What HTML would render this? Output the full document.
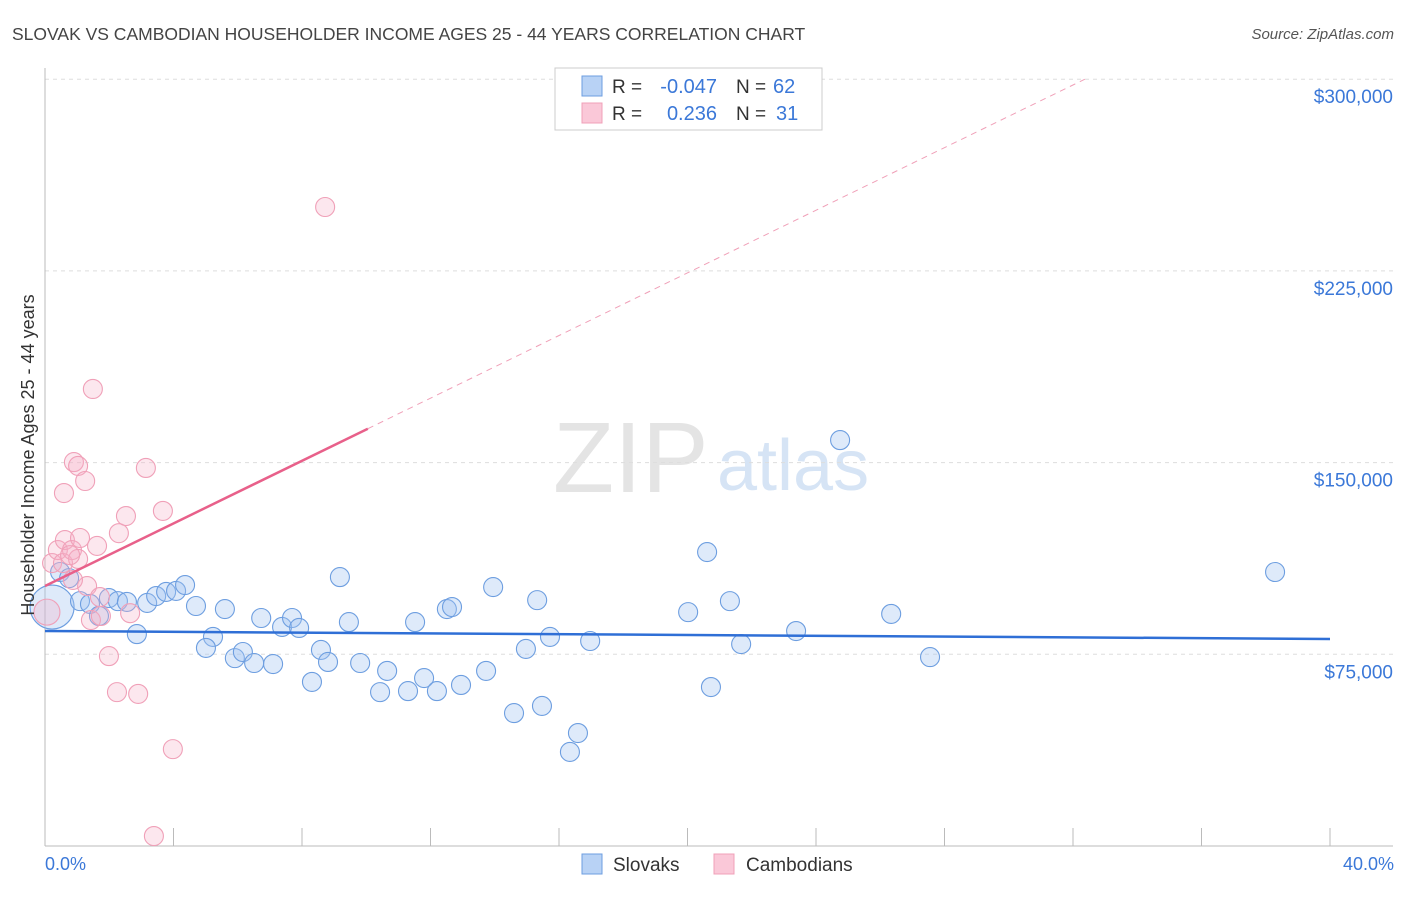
<!DOCTYPE html>
<html><head><meta charset="utf-8"><style>
body{margin:0;background:#fff;font-family:"Liberation Sans",sans-serif;}
svg text{font-family:"Liberation Sans",sans-serif;}
</style></head><body>
<svg id="c" width="1406" height="892">
<text x="12" y="40" font-size="17.5" fill="#444">SLOVAK VS CAMBODIAN HOUSEHOLDER INCOME AGES 25 - 44 YEARS CORRELATION CHART</text>
<text x="1394" y="39" font-size="15" fill="#555" text-anchor="end" font-style="italic">Source: ZipAtlas.com</text>
<g>
<text x="553" y="492" font-size="100" fill="#e4e4e4" font-family="Liberation Serif">ZIP</text>
<text x="717" y="490" font-size="72" fill="#d6e4f5">atlas</text>
</g>
<g id="grid"></g><g id="axes"></g><g id="pts"></g><g id="trend"></g>
<text transform="translate(34,455) rotate(-90)" font-size="18" fill="#333" text-anchor="middle">Householder Income Ages 25 - 44 years</text>
<text x="45" y="870" font-size="18" fill="#3b78d8">0.0%</text>
<text x="1394" y="870" font-size="18" fill="#3b78d8" text-anchor="end">40.0%</text>
<g>
<rect x="555" y="68" width="267" height="62" fill="#fff" stroke="#ccc"/>
<rect x="582" y="76" width="20" height="20" fill="#b8d2f5" stroke="#6d9ee0"/>
<rect x="582" y="103" width="20" height="20" fill="#fac8d8" stroke="#f0a0b8"/>
<text x="612" y="93" font-size="19" fill="#333">R =</text>
<text x="717" y="93" font-size="20" fill="#3b78d8" text-anchor="end">-0.047</text>
<text x="736" y="93" font-size="19" fill="#333">N =</text>
<text x="773" y="93" font-size="20" fill="#3b78d8">62</text>
<text x="612" y="120" font-size="19" fill="#333">R =</text>
<text x="717" y="120" font-size="20" fill="#3b78d8" text-anchor="end">0.236</text>
<text x="736" y="120" font-size="19" fill="#333">N =</text>
<text x="776" y="120" font-size="20" fill="#3b78d8">31</text>
</g>
<g>
<rect x="582" y="854" width="20" height="20" fill="#b8d2f5" stroke="#6d9ee0"/>
<text x="613" y="871" font-size="19" fill="#333">Slovaks</text>
<rect x="714" y="854" width="20" height="20" fill="#fac8d8" stroke="#f0a0b8"/>
<text x="746" y="871" font-size="19" fill="#333">Cambodians</text>
</g>
</svg>
<script>
const yTicks=[75000,150000,225000,300000];
const yTickLabels=["$75,000","$150,000","$225,000","$300,000"];
const xTicks=[0,4,8,12,16,20,24,28,32,36,40];
const slovakX=[0.22,0.47,0.75,1.09,1.40,1.68,1.99,2.27,2.55,2.86,3.18,3.46,3.77,4.08,4.36,4.70,5.23,5.01,5.60,5.91,6.16,6.51,6.73,7.10,7.38,7.69,7.91,8.31,8.59,8.81,9.18,9.46,9.81,10.43,10.65,11.30,11.52,11.80,12.20,12.51,12.67,12.95,13.73,13.95,14.60,14.97,15.32,15.47,15.72,16.34,16.59,16.97,20.02,20.61,20.73,21.32,21.67,23.38,24.75,26.34,27.55,38.29];
const slovakY=[93.5,107.2,104.8,95.8,94.7,90.0,97.0,95.8,95.5,82.9,95.1,97.8,99.4,99.8,102.1,93.9,81.8,77.5,92.7,73.5,75.9,71.6,89.2,71.2,85.7,89.2,85.3,64.2,76.7,72.0,105.2,87.6,71.6,60.2,68.5,60.6,87.6,65.7,60.6,92.7,93.5,63.0,68.5,101.3,52.0,77.1,96.2,54.8,81.8,36.8,44.2,80.2,91.5,115.0,62.2,95.8,79.0,84.1,158.8,90.8,73.9,107.2];
const cambX=[0.06,0.22,0.40,0.56,0.62,0.84,1.03,0.59,0.90,1.03,1.25,1.31,1.49,1.43,1.62,1.71,1.74,1.99,2.24,2.30,2.52,2.65,2.90,3.14,3.67,3.98,3.39,8.72,1.09,0.78,0.87];
const cambY=[91.5,110.7,115.8,110.7,119.7,115.8,112.3,138.1,150.2,148.7,142.8,101.7,178.8,88.4,117.4,97.4,90.0,74.3,60.2,122.4,129.1,91.1,59.5,147.9,131.1,37.9,3.9,250.0,120.5,113.8,104.1];
const slovakTrend=[84.1,81.0];
const cambTrend=[101.7,300];
const NS='http://www.w3.org/2000/svg';
const xs=v=>45+v/40*1285, ys=v=>846-v/75000*191.7, yk=v=>ys(v*1000);
function mk(p,tag,a){const e=document.createElementNS(NS,tag);for(const k in a)e.setAttribute(k,a[k]);document.getElementById(p).appendChild(e);return e;}
yTicks.forEach((t,i)=>{
 const g=mk('grid','line',{x1:45,x2:1393,y1:ys(t),y2:ys(t),stroke:'#ddd','stroke-dasharray':'4,4'});
 
 
 const l=mk('grid','text',{x:1393,y:ys(t)+24,'font-size':19,fill:'#3b78d8','text-anchor':'end'});
 l.textContent=yTickLabels[i];
 
 
});
const ax=mk('axes','line',{x1:45,x2:1393,y1:846,y2:846,stroke:'#bbb'});


const ay=mk('axes','line',{x1:45,x2:45,y1:68,y2:846,stroke:'#bbb'});


xTicks.forEach(t=>{const k=mk('axes','line',{x1:xs(t),x2:xs(t),y1:828,y2:846,stroke:'#bbb'});
 
 });
slovakX.forEach((x,i)=>{const c=mk('pts','circle',{cx:xs(x),cy:yk(slovakY[i]),r:i==0?22:9.5,fill:'rgba(160,196,240,0.35)',stroke:'#6d9ee0','stroke-width':1.1});
 
 });
cambX.forEach((x,i)=>{const c=mk('pts','circle',{cx:xs(x),cy:yk(cambY[i]),r:i==0?13:9.5,fill:'rgba(246,176,200,0.3)',stroke:'#f0a0b8','stroke-width':1.1});
 
 });
const bt=mk('trend','line',{x1:xs(0),y1:yk(slovakTrend[0]),x2:xs(40),y2:yk(slovakTrend[1]),stroke:'#2f6fd6','stroke-width':2.5});


const slope=(cambTrend[1]-cambTrend[0])/32.37, xe=32.37, xs1=10.05;
const pt=mk('trend','line',{x1:xs(0),y1:yk(cambTrend[0]),x2:xs(xs1),y2:yk(cambTrend[0]+slope*xs1),stroke:'#e8608a','stroke-width':2.5});


const pd=mk('trend','line',{x1:xs(xs1),y1:yk(cambTrend[0]+slope*xs1),x2:xs(xe),y2:yk(cambTrend[1]),stroke:'#f0a0b8','stroke-width':1,'stroke-dasharray':'6,5'});


</script>
</body></html>
